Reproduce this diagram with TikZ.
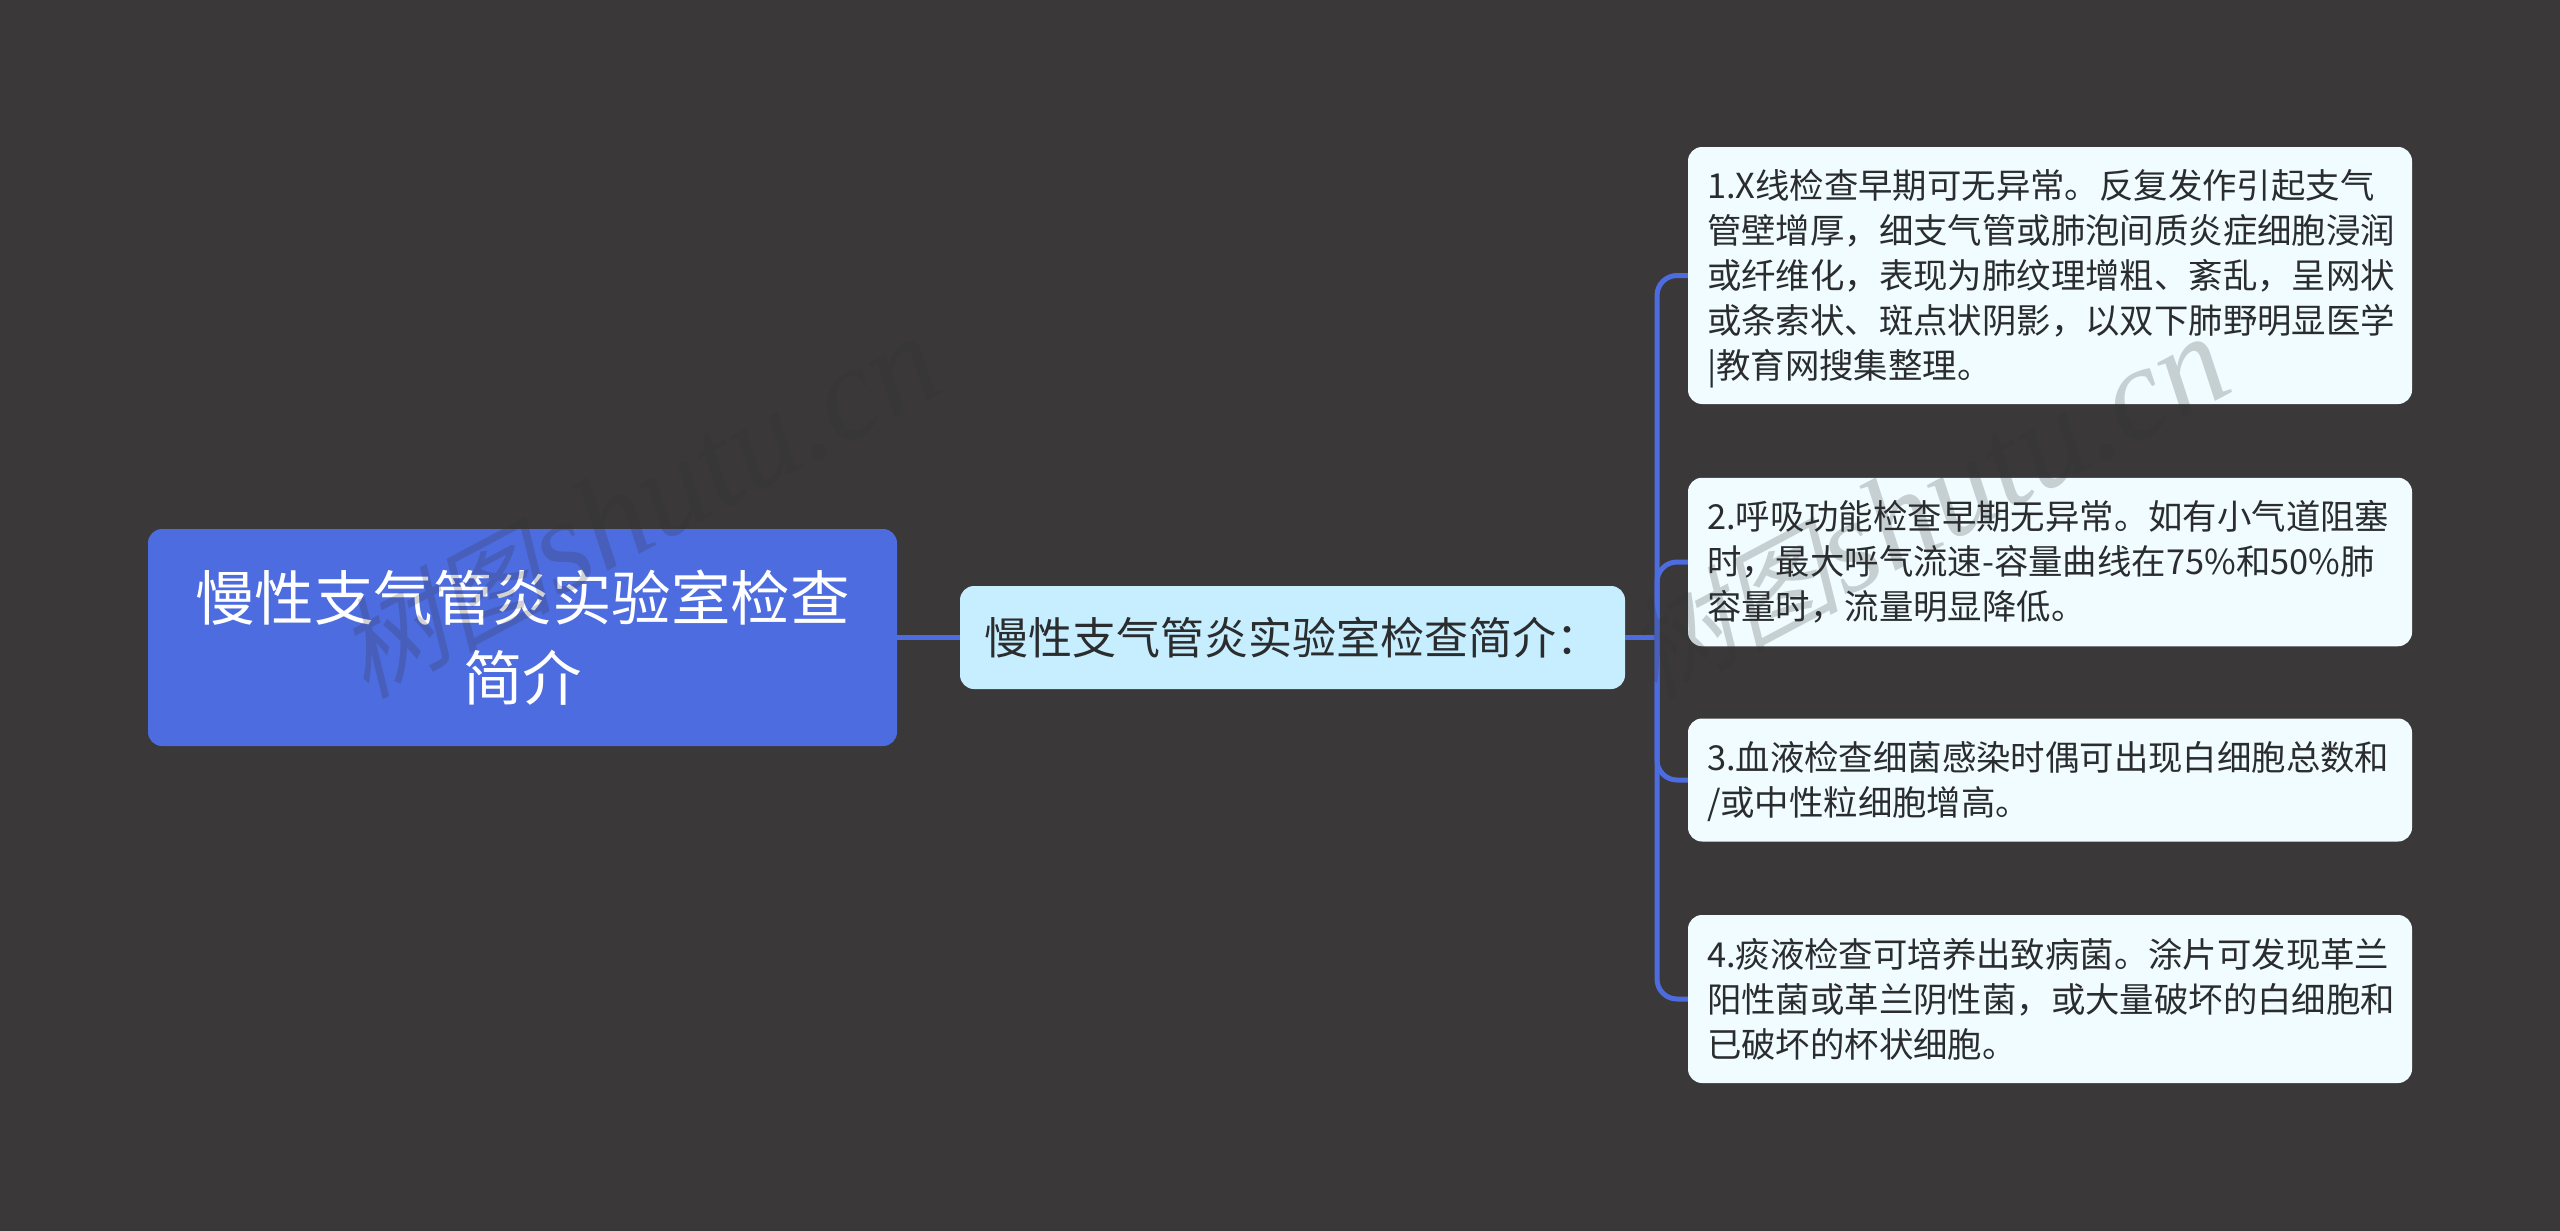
\documentclass[tikz,border=0pt]{standalone}
\usepackage{fontspec}
\setmainfont{Noto Sans CJK SC}
\newfontfamily\wmcjk[FakeSlant=0.25]{Noto Sans CJK SC}
\newfontfamily\wmlat{Liberation Serif}[ItalicFont=* Italic]
\definecolor{bgc}{HTML}{3A3839}
\definecolor{rootc}{HTML}{4D6CE0}
\definecolor{subc}{HTML}{C7EEFF}
\definecolor{leafc}{HTML}{F0FCFF}
\definecolor{inkc}{HTML}{2A2C2E}
\definecolor{wmc}{HTML}{343434}
\newcommand{\wmtext}{{\fontsize{108}{120}\selectfont\wmcjk 树图} {\fontsize{132}{120}\selectfont\wmlat\itshape shutu.cn}}
\tikzset{
  box/.style={rounded corners=14pt,inner sep=0pt,anchor=center},
  rootbox/.style={box,fill=rootc,text=white,minimum width=749pt,minimum height=217pt,
    align=center,font=\fontsize{59.5}{80}\selectfont},
  subbox/.style={box,fill=subc,text=inkc,minimum width=665pt,minimum height=103pt,
    font=\fontsize{44}{52}\selectfont},
  leafbox/.style={box,fill=leafc,text=inkc,minimum width=724pt,inner xsep=19pt,text width=686pt,
    align=left,font=\fontsize{34.4}{45}\selectfont},
  conn/.style={draw=rootc,line width=5pt},
  bendconn/.style={conn,rounded corners=20pt},
  wm/.style={text=wmc,opacity=0.22,rotate=28,inner sep=0pt}
}
\begin{document}
\begin{tikzpicture}[x=1pt,y=-1pt]
\useasboundingbox (0,0) rectangle (2560,1231);
\fill[bgc] (0,0) rectangle (2560,1231);
\coordinate (bus) at (1657,637.5);
\node[rootbox] (root) at (522.5,637.5) {慢性支气管炎实验室检查\\简介};
\node[subbox] (sub) at (1292.5,637.5) {慢性支气管炎实验室检查简介：};
\node[leafbox,minimum height=257pt] (l1) at (2050,275.5) {1.X线检查早期可无异常。反复发作引起支气\\管壁增厚，细支气管或肺泡间质炎症细胞浸润\\或纤维化，表现为肺纹理增粗、紊乱，呈网状\\或条索状、斑点状阴影，以双下肺野明显医学\\\smash{|}教育网搜集整理。};
\node[leafbox,minimum height=168.5pt] (l2) at (2050,562) {2.呼吸功能检查早期无异常。如有小气道阻塞\\时，最大呼气流速-容量曲线在75\%和50\%肺\\容量时，流量明显降低。};
\node[leafbox,minimum height=123pt] (l3) at (2050,780) {3.血液检查细菌感染时偶可出现白细胞总数和\\\smash{/}或中性粒细胞增高。};
\node[leafbox,minimum height=168pt] (l4) at (2050,999) {4.痰液检查可培养出致病菌。涂片可发现革兰\\阳性菌或革兰阴性菌，或大量破坏的白细胞和\\已破坏的杯状细胞。};
\draw[conn] (root.east) -- (sub.west);
\draw[conn] (sub.east) -- (bus);
\draw[bendconn] (bus) |- (l1.west);
\draw[bendconn] (bus) |- (l2.west);
\draw[bendconn] (bus) |- (l3.west);
\draw[bendconn] (bus) |- (l4.west);
\node[wm] (wm1) at (638,508) {\wmtext};
\node[wm] (wm2) at (1926,508) {\wmtext};
\end{tikzpicture}
\end{document}
